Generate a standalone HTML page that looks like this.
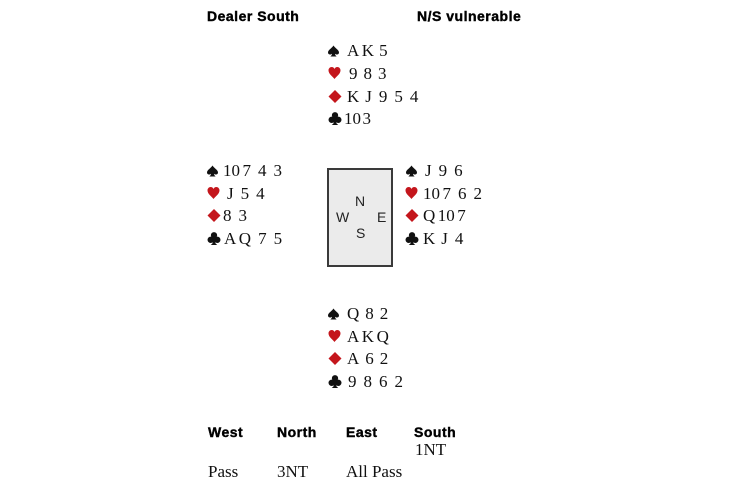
<!DOCTYPE html>
<html>
<head>
<meta charset="utf-8">
<style>
  html,body{margin:0;padding:0;background:#fff;}
  body{width:730px;height:486px;position:relative;overflow:hidden;}
  .t{position:absolute;white-space:nowrap;}
  .hd{font-family:"Liberation Sans",sans-serif;font-weight:bold;font-size:14px;line-height:16px;letter-spacing:0.5px;color:#000;-webkit-text-stroke:0.4px #000;}
  .cd{font-family:"Liberation Serif",serif;font-size:17px;line-height:20px;color:#111;}
  .g7{margin-left:7px;}
  .g6{margin-left:6px;}
  .g5{margin-left:5px;}
  .g2{margin-left:2.5px;}
  .g1{margin-left:1.5px;}
  .box{position:absolute;left:327px;top:168px;width:62px;height:95px;background:#ebebeb;border:2px solid #3a3a3a;}
  .cp{position:absolute;font-family:"Liberation Sans",sans-serif;font-size:14px;line-height:16px;color:#222;}
  svg.su{position:absolute;overflow:visible;}
  .blk{fill:#111;}
  .red{fill:#c4161c;}
</style>
</head>
<body>

<svg width="0" height="0" style="position:absolute">
  <defs>
    <path id="sp" d="M6 0 C4.5 2.8 0 4.8 0 7.6 C0 9.8 2.4 10.6 4.4 9 C4.3 10.3 3.6 11.2 2.6 12 L9.4 12 C8.4 11.2 7.7 10.3 7.6 9 C9.6 10.6 12 9.8 12 7.6 C12 4.8 7.5 2.8 6 0Z"/>
    <path id="ht" d="M6 12 C4 9.4 0 7 0 3.4 C0 1.4 1.5 0 3.2 0 C4.5 0 5.5 0.8 6 2 C6.5 0.8 7.5 0 8.8 0 C10.5 0 12 1.4 12 3.4 C12 7 8 9.4 6 12Z"/>
    <path id="dm" d="M6 0 L12 6 L6 12 L0 6Z"/>
    <g id="cl">
      <circle cx="6" cy="3" r="2.9"/>
      <circle cx="2.9" cy="7.2" r="2.9"/>
      <circle cx="9.1" cy="7.2" r="2.9"/>
      <path d="M5.1 5 L6.9 5 L7.4 10.6 L9 12 L3 12 L4.6 10.6Z"/>
    </g>
  </defs>
</svg>

<div class="t hd" style="left:207px;top:8px;">Dealer South</div>
<div class="t hd" style="left:417px;top:8px;">N/S vulnerable</div>

<!-- North -->
<svg class="su blk" style="left:328px;top:45px" width="11" height="12" viewBox="0 0 12 12"><use href="#sp"/></svg>
<div class="t cd" style="left:347px;top:41px;"><span>A</span><span class="g2">K</span><span class="g5">5</span></div>
<svg class="su red" style="left:328px;top:67px" width="13" height="12" viewBox="0 0 12 12"><use href="#ht"/></svg>
<div class="t cd" style="left:349px;top:64px;"><span>9</span><span class="g6">8</span><span class="g6">3</span></div>
<svg class="su red" style="left:328px;top:90px" width="14" height="13" viewBox="0 0 12 12"><use href="#dm"/></svg>
<div class="t cd" style="left:347px;top:87px;"><span>K</span><span class="g6">J</span><span class="g7">9</span><span class="g7">5</span><span class="g7">4</span></div>
<svg class="su blk" style="left:328px;top:112px" width="14" height="13" viewBox="0 0 12 12"><use href="#cl"/></svg>
<div class="t cd" style="left:344px;top:109px;"><span>10</span><span class="g1">3</span></div>

<!-- West -->
<svg class="su blk" style="left:207px;top:165px" width="11" height="12" viewBox="0 0 12 12"><use href="#sp"/></svg>
<div class="t cd" style="left:223px;top:161px;"><span>10</span><span class="g2">7</span><span class="g7">4</span><span class="g7">3</span></div>
<svg class="su red" style="left:207px;top:187px" width="13" height="12" viewBox="0 0 12 12"><use href="#ht"/></svg>
<div class="t cd" style="left:227px;top:184px;"><span>J</span><span class="g7">5</span><span class="g7">4</span></div>
<svg class="su red" style="left:207px;top:209px" width="14" height="13" viewBox="0 0 12 12"><use href="#dm"/></svg>
<div class="t cd" style="left:223px;top:206px;"><span>8</span><span class="g7">3</span></div>
<svg class="su blk" style="left:207px;top:232px" width="14" height="13" viewBox="0 0 12 12"><use href="#cl"/></svg>
<div class="t cd" style="left:224px;top:229px;"><span>A</span><span class="g2">Q</span><span class="g7">7</span><span class="g7">5</span></div>

<!-- Compass box -->
<div class="box"></div>
<div class="cp" style="left:355px;top:193px;">N</div>
<div class="cp" style="left:336px;top:209px;">W</div>
<div class="cp" style="left:377px;top:209px;">E</div>
<div class="cp" style="left:356px;top:225px;">S</div>

<!-- East -->
<svg class="su blk" style="left:406px;top:165px" width="11" height="12" viewBox="0 0 12 12"><use href="#sp"/></svg>
<div class="t cd" style="left:425px;top:161px;"><span>J</span><span class="g7">9</span><span class="g7">6</span></div>
<svg class="su red" style="left:405px;top:187px" width="13" height="12" viewBox="0 0 12 12"><use href="#ht"/></svg>
<div class="t cd" style="left:423px;top:184px;"><span>10</span><span class="g2">7</span><span class="g7">6</span><span class="g7">2</span></div>
<svg class="su red" style="left:405px;top:209px" width="14" height="13" viewBox="0 0 12 12"><use href="#dm"/></svg>
<div class="t cd" style="left:423px;top:206px;"><span>Q</span><span class="g2">10</span><span class="g2">7</span></div>
<svg class="su blk" style="left:405px;top:232px" width="14" height="13" viewBox="0 0 12 12"><use href="#cl"/></svg>
<div class="t cd" style="left:423px;top:229px;"><span>K</span><span class="g6">J</span><span class="g7">4</span></div>

<!-- South -->
<svg class="su blk" style="left:328px;top:308px" width="11" height="12" viewBox="0 0 12 12"><use href="#sp"/></svg>
<div class="t cd" style="left:347px;top:304px;"><span>Q</span><span class="g6">8</span><span class="g6">2</span></div>
<svg class="su red" style="left:328px;top:330px" width="13" height="12" viewBox="0 0 12 12"><use href="#ht"/></svg>
<div class="t cd" style="left:347px;top:327px;"><span>A</span><span class="g2">K</span><span class="g2">Q</span></div>
<svg class="su red" style="left:328px;top:352px" width="14" height="13" viewBox="0 0 12 12"><use href="#dm"/></svg>
<div class="t cd" style="left:347px;top:349px;"><span>A</span><span class="g6">6</span><span class="g6">2</span></div>
<svg class="su blk" style="left:328px;top:375px" width="14" height="13" viewBox="0 0 12 12"><use href="#cl"/></svg>
<div class="t cd" style="left:348px;top:372px;"><span>9</span><span class="g7">8</span><span class="g7">6</span><span class="g7">2</span></div>

<!-- Auction -->
<div class="t hd" style="left:208px;top:424px;">West</div>
<div class="t hd" style="left:277px;top:424px;">North</div>
<div class="t hd" style="left:346px;top:424px;">East</div>
<div class="t hd" style="left:414px;top:424px;">South</div>
<div class="t cd" style="left:415px;top:440px;">1NT</div>
<div class="t cd" style="left:208px;top:462px;">Pass</div>
<div class="t cd" style="left:277px;top:462px;">3NT</div>
<div class="t cd" style="left:346px;top:462px;">All Pass</div>

</body>
</html>
